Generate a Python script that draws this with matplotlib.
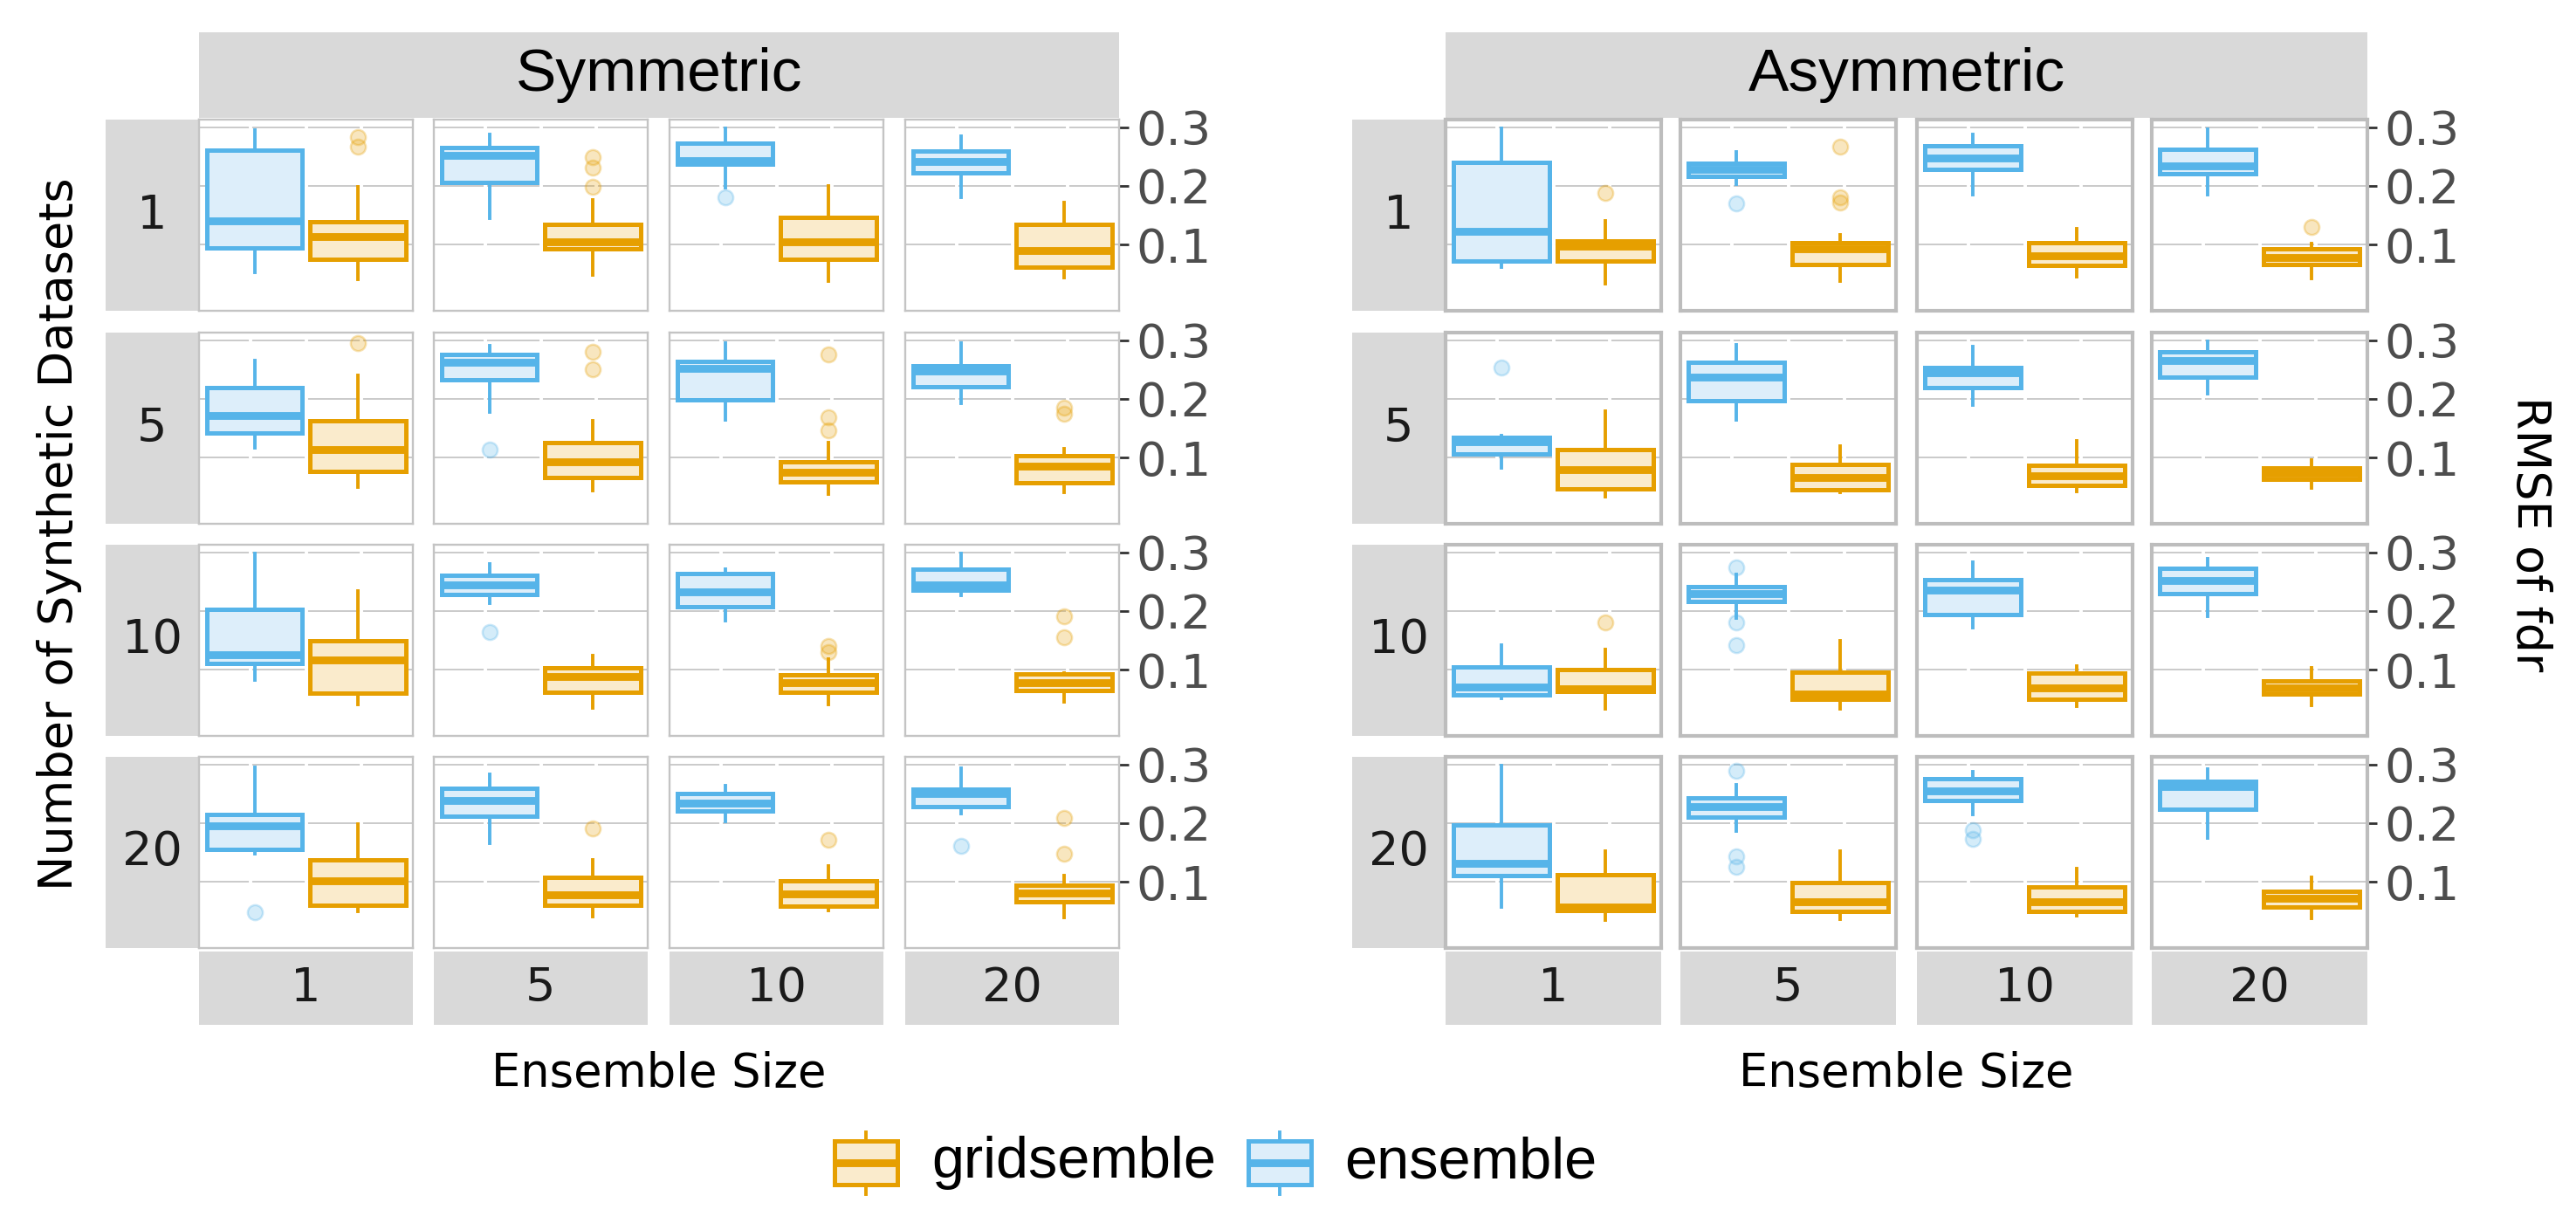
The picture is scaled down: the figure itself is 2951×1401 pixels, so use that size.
import matplotlib
matplotlib.use("Agg")
import matplotlib.pyplot as plt
from matplotlib.patches import Rectangle

W, H = 2951, 1401
DPI = 200

designs = ["Symmetric", "Asymmetric"]
n_datasets = ["1", "5", "10", "20"]       # facet rows
ensemble_sizes = ["1", "5", "10", "20"]   # facet columns
methods = ["gridsemble", "ensemble"]

# box stats per cell: [whisker low, q1, median, q3, whisker high], rows x columns
sym_ensemble = [
    [0.053, 0.094, 0.141, 0.261, 0.295], [0.145, 0.206, 0.252, 0.266, 0.288],
    [0.197, 0.237, 0.244, 0.273, 0.299], [0.180, 0.223, 0.242, 0.260, 0.285],
    [0.116, 0.1425, 0.1715, 0.219, 0.265], [0.1775, 0.2335, 0.2625, 0.2765, 0.291],
    [0.164, 0.199, 0.2525, 0.264, 0.295], [0.1925, 0.221, 0.247, 0.256, 0.296],
    [0.0825, 0.110, 0.125, 0.2025, 0.299], [0.214, 0.2285, 0.245, 0.261, 0.280],
    [0.184, 0.208, 0.2325, 0.2635, 0.271], [0.227, 0.2355, 0.245, 0.2715, 0.299],
    [0.148, 0.155, 0.1955, 0.2155, 0.296], [0.165, 0.2115, 0.239, 0.260, 0.284],
    [0.203, 0.2205, 0.235, 0.250, 0.264], [0.216, 0.229, 0.250, 0.2587, 0.2935],
]
sym_ensemble_out = [
    [], [], [0.181], [],
    [], [0.1135], [], [],
    [], [0.164], [], [],
    [0.048], [], [], [0.161],
]
sym_gridsemble = [
    [0.040, 0.075, 0.114, 0.139, 0.199], [0.048, 0.092, 0.105, 0.135, 0.176],
    [0.038, 0.075, 0.105, 0.146, 0.200], [0.043, 0.061, 0.090, 0.134, 0.171],
    [0.050, 0.076, 0.114, 0.1625, 0.240], [0.044, 0.065, 0.0925, 0.126, 0.1625],
    [0.0375, 0.0575, 0.074, 0.0925, 0.125], [0.041, 0.0565, 0.085, 0.1025, 0.115],
    [0.040, 0.059, 0.116, 0.150, 0.234], [0.035, 0.061, 0.0875, 0.1035, 0.124],
    [0.040, 0.0615, 0.0775, 0.091, 0.1175], [0.045, 0.0635, 0.0775, 0.092, 0.094],
    [0.049, 0.059, 0.101, 0.137, 0.199], [0.041, 0.060, 0.077, 0.107, 0.137],
    [0.051, 0.0587, 0.0785, 0.101, 0.127], [0.0388, 0.065, 0.081, 0.0935, 0.111],
]
sym_gridsemble_out = [
    [0.284, 0.267], [0.249, 0.232, 0.198], [], [],
    [0.296], [0.280, 0.251], [0.276, 0.169, 0.146], [0.185, 0.175],
    [], [], [0.140, 0.130], [0.191, 0.155],
    [], [0.1905], [0.171], [0.2095, 0.148],
]
asym_ensemble = [
    [0.061, 0.071, 0.1224, 0.241, 0.299], [0.2035, 0.217, 0.228, 0.2393, 0.258],
    [0.1856, 0.2284, 0.248, 0.269, 0.2876], [0.1856, 0.221, 0.2343, 0.2627, 0.2975],
    [0.0825, 0.106, 0.1275, 0.135, 0.137], [0.164, 0.1975, 0.2375, 0.2625, 0.2925],
    [0.189, 0.220, 0.245, 0.2535, 0.289], [0.209, 0.2375, 0.265, 0.281, 0.299],
    [0.051, 0.056, 0.070, 0.105, 0.1425], [0.1875, 0.2165, 0.230, 0.2425, 0.2625],
    [0.1715, 0.194, 0.236, 0.254, 0.2835], [0.191, 0.230, 0.2525, 0.2725, 0.289],
    [0.056, 0.111, 0.131, 0.197, 0.299], [0.186, 0.2105, 0.228, 0.244, 0.266],
    [0.2154, 0.2388, 0.2552, 0.2766, 0.2886], [0.174, 0.2239, 0.2627, 0.271, 0.2925],
]
asym_ensemble_out = [
    [], [0.170], [], [],
    [0.254], [], [], [],
    [], [0.275, 0.180, 0.1425], [], [],
    [], [0.290, 0.1433, 0.126], [0.188, 0.173], [],
]
asym_gridsemble = [
    [0.033, 0.071, 0.0975, 0.1065, 0.140], [0.037, 0.066, 0.0925, 0.1025, 0.116],
    [0.0443, 0.0642, 0.080, 0.1035, 0.1264], [0.0413, 0.0652, 0.0776, 0.0925, 0.101],
    [0.0325, 0.046, 0.079, 0.114, 0.179], [0.040, 0.045, 0.065, 0.0885, 0.120],
    [0.0425, 0.0525, 0.069, 0.086, 0.129], [0.0475, 0.0625, 0.0725, 0.0815, 0.096],
    [0.0325, 0.0625, 0.0675, 0.100, 0.135], [0.0325, 0.049, 0.0575, 0.095, 0.150],
    [0.0375, 0.049, 0.0685, 0.0935, 0.106], [0.039, 0.0575, 0.069, 0.080, 0.1025],
    [0.034, 0.051, 0.056, 0.112, 0.152], [0.0353, 0.0488, 0.0662, 0.098, 0.152],
    [0.0423, 0.0488, 0.0662, 0.091, 0.122], [0.0373, 0.0572, 0.0711, 0.0836, 0.107],
]
asym_gridsemble_out = [
    [0.188], [0.2667, 0.180, 0.172], [], [0.130],
    [], [], [], [],
    [0.180], [], [], [],
    [], [], [], [],
]

y_ticks = [0.1, 0.2, 0.3]
y_tick_labels = ["0.1", "0.2", "0.3"]

BLUE, BLUE_FILL = "#56B4E9", "#DDEEFA"
ORANGE, ORANGE_FILL = "#E69F00", "#FAEBCC"
STRIP = "#D9D9D9"


def frac(x, y, w, h):
    # pixel box (top-left origin) -> figure fraction rect
    return [x / W, 1 - (y + h) / H, w / W, h / H]


def add_rect(fig, x, y, w, h, color=STRIP):
    fig.add_artist(Rectangle((x / W, 1 - (y + h) / H), w / W, h / H,
                             transform=fig.transFigure, facecolor=color,
                             edgecolor="none", zorder=0))


def draw_box(ax, s, outl, pos, edge, fill):
    rgb = matplotlib.colors.to_rgb(edge)
    st = dict(whislo=s[0], q1=s[1], med=s[2], q3=s[3], whishi=s[4], fliers=outl)
    ax.bxp([st], positions=[pos], widths=[0.447], patch_artist=True,
           showcaps=False, manage_ticks=False,
           boxprops=dict(facecolor=fill, edgecolor=edge, linewidth=1.8),
           medianprops=dict(color=edge, linewidth=3.2, solid_capstyle="butt"),
           whiskerprops=dict(color=edge, linewidth=1.4),
           flierprops=dict(marker="o", markersize=6.2, linestyle="none",
                           markerfacecolor=rgb + (0.25,),
                           markeredgecolor=rgb + (0.3,),
                           markeredgewidth=0.9),
           zorder=3)


fig = plt.figure(figsize=(W / DPI, H / DPI), dpi=DPI)
fig.patch.set_facecolor("white")

row_y = [137, 381, 624, 867]
panel_h = 219
layouts = {
    "Symmetric": dict(x0=[228, 497, 767, 1037], w=245, border="#C4C4C4", blw=0.85,
                      ens=sym_ensemble, ens_out=sym_ensemble_out,
                      grid=sym_gridsemble, grid_out=sym_gridsemble_out),
    "Asymmetric": dict(x0=[1656, 1925, 2196, 2465], w=247, border="#BDBDBD", blw=1.5,
                       ens=asym_ensemble, ens_out=asym_ensemble_out,
                       grid=asym_gridsemble, grid_out=asym_gridsemble_out),
}

for name in designs:
    L = layouts[name]
    x0, w = L["x0"], L["w"]
    left, right = x0[0], x0[-1] + w
    # top strip
    add_rect(fig, left, 37, right - left, 98)
    fig.text((left + right) / 2 / W, 1 - 86 / H, name, ha="center", va="center",
             fontsize=25, family="Liberation Sans", color="black")
    # row strips
    for r, lab in enumerate(n_datasets):
        add_rect(fig, left - 107, row_y[r], 107, panel_h)
        fig.text((left - 53.5) / W, 1 - (row_y[r] + panel_h / 2) / H, lab,
                 ha="center", va="center", fontsize=19.5, color="#1A1A1A")
    # bottom strips
    for c, lab in enumerate(ensemble_sizes):
        add_rect(fig, x0[c], 1090, w, 84)
        fig.text((x0[c] + w / 2) / W, 1 - 1132 / H, lab,
                 ha="center", va="center", fontsize=19.5, color="#1A1A1A")
    fig.text((left + right) / 2 / W, 1 - 1230 / H, "Ensemble Size",
             ha="center", va="center", fontsize=19)

    for r in range(4):
        for c in range(4):
            i = r * 4 + c
            ax = fig.add_axes(frac(x0[c], row_y[r], w, panel_h))
            ax.set_xlim(0, 1)
            ax.set_ylim(-0.0134, 0.3134)
            for sp in ax.spines.values():
                sp.set_color(L["border"])
                sp.set_linewidth(L["blw"])
            for v in y_ticks:
                ax.axhline(v, color="#CACACA", lw=0.7, zorder=0.5)
            for xv in [0.24, 0.5, 0.76]:
                ax.axvline(xv, color="white", lw=1.4, zorder=0.6)
            draw_box(ax, L["ens"][i], L["ens_out"][i], 0.26, BLUE, BLUE_FILL)
            draw_box(ax, L["grid"][i], L["grid_out"][i], 0.742, ORANGE, ORANGE_FILL)
            ax.set_xticks([])
            if c == 3:
                ax.yaxis.tick_right()
                ax.set_yticks(y_ticks)
                ax.set_yticklabels(y_tick_labels)
                ax.tick_params(axis="y", length=4, width=1.0, color="#333333",
                               labelsize=19.5, labelcolor="#4D4D4D", pad=3)
            else:
                ax.set_yticks([])

fig.text(68 / W, 1 - 612 / H, "Number of Synthetic Datasets", rotation=90,
         ha="center", va="center", fontsize=19.5)
fig.text(2898 / W, 1 - 612 / H, "RMSE of fdr", rotation=270,
         ha="center", va="center", fontsize=19.5)

# legend
legend_items = [(956, 1067, ORANGE, ORANGE_FILL, methods[0]),
                (1430, 1540, BLUE, BLUE_FILL, methods[1])]
for ix, tx, edge, fill, lab in legend_items:
    lax = fig.add_axes(frac(ix - 4, 1294, 80, 78))
    lax.set_xlim(0, 80)
    lax.set_ylim(78, 0)
    lax.axis("off")
    lax.plot([40, 40], [3, 13], color=edge, lw=1.4)
    lax.plot([40, 40], [63, 74], color=edge, lw=1.4)
    lax.add_patch(Rectangle((4, 13), 72, 50, facecolor=fill, edgecolor=edge, lw=1.8))
    lax.plot([4, 76], [38, 38], color=edge, lw=3.2, solid_capstyle="butt")
    fig.text(tx / W, 1 - 1332 / H, lab, ha="left", va="center",
             fontsize=24, family="Liberation Sans")

fig.savefig("out.png", dpi=DPI, facecolor="white")
